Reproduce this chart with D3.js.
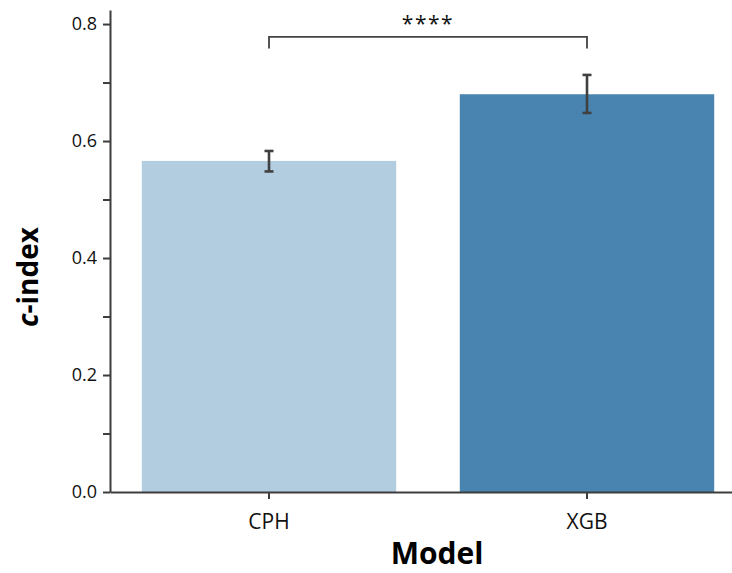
<!DOCTYPE html>
<html>
<head>
<meta charset="utf-8">
<script src="https://cdn.jsdelivr.net/npm/d3@7"></script>
<style>
  body { margin: 0; background: #fff; }
  svg { display: block; font-family: "Open Sans", sans-serif; }
</style>
</head>
<body>
<div id="chart"></div>
<script>
var categories = ["CPH", "XGB"];
var cIndex = [0.566, 0.680];
var ciLow = [0.548, 0.648];
var ciHigh = [0.583, 0.713];
var barColors = ["#b3cde0", "#4884af"];
var yTicks = [0.0, 0.2, 0.4, 0.6, 0.8];
var yMinorTicks = [0.1, 0.3, 0.5, 0.7];
var sigPair = ["CPH", "XGB"];
var sigLabel = "****";
var sigBracket = [0.758, 0.778];

var width = 732, height = 573;
var margin = { top: 10, left: 110, bottom: 81 };
var font = "'Open Sans', sans-serif";

var svg = d3.select("#chart").append("svg")
    .attr("width", width)
    .attr("height", height);

var x = d3.scaleBand()
    .domain(categories)
    .range([margin.left, margin.left + 636])
    .paddingInner(0.2)
    .paddingOuter(0.1);

var y = d3.scaleLinear()
    .domain([0, 0.824])
    .range([height - margin.bottom, margin.top]);

var axisColor = "#3d3d3d";

// bars
svg.append("g").selectAll("rect")
    .data(categories)
    .enter().append("rect")
    .attr("x", function(d) { return x(d); })
    .attr("y", function(d, i) { return y(cIndex[i]); })
    .attr("width", x.bandwidth())
    .attr("height", function(d, i) { return y(0) - y(cIndex[i]); })
    .attr("fill", function(d, i) { return barColors[i]; });

// error bars
var err = svg.append("g")
    .attr("stroke", "#404040")
    .attr("stroke-width", 2.6);

categories.forEach(function(c, i) {
    var cx = x(c) + x.bandwidth() / 2;
    err.append("line")
        .attr("x1", cx).attr("x2", cx)
        .attr("y1", y(ciLow[i])).attr("y2", y(ciHigh[i]));
    err.append("line")
        .attr("x1", cx - 4.5).attr("x2", cx + 4.5)
        .attr("y1", y(ciLow[i])).attr("y2", y(ciLow[i]));
    err.append("line")
        .attr("x1", cx - 4.5).attr("x2", cx + 4.5)
        .attr("y1", y(ciHigh[i])).attr("y2", y(ciHigh[i]));
});

// y axis
var yAxis = svg.append("g")
    .attr("transform", "translate(" + margin.left + ",0)")
    .call(d3.axisLeft(y).tickValues(yTicks).tickFormat(d3.format(".1f")).tickSize(7).tickSizeOuter(0));

svg.append("g")
    .attr("transform", "translate(" + margin.left + ",0)")
    .call(d3.axisLeft(y).tickValues(yMinorTicks).tickFormat("").tickSize(7).tickSizeOuter(0))
    .select(".domain").remove();

// x axis
var xAxis = svg.append("g")
    .attr("transform", "translate(0," + y(0) + ")")
    .call(d3.axisBottom(x).tickSize(7).tickSizeOuter(0));

svg.selectAll(".domain")
    .attr("stroke", axisColor)
    .attr("stroke-width", 2);
svg.selectAll(".tick line")
    .attr("stroke", axisColor)
    .attr("stroke-width", 2);
yAxis.attr("font-family", font).attr("font-size", 18);
xAxis.attr("font-family", font).attr("font-size", 21);
yAxis.selectAll(".tick text")
    .style("font-size", "18px")
    .attr("fill", "#111")
    .attr("x", -13);
xAxis.selectAll(".tick text")
    .style("font-size", "21px")
    .attr("fill", "#111")
    .attr("y", 22);

// axis titles
svg.append("text")
    .attr("transform", "translate(38,277) rotate(-90)")
    .attr("text-anchor", "middle")
    .attr("font-size", 28)
    .attr("font-weight", "bold")
    .attr("fill", "#000")
    .html('<tspan font-style="italic">c</tspan>-index');

svg.append("text")
    .attr("x", 437)
    .attr("y", 564)
    .attr("text-anchor", "middle")
    .attr("font-size", 30)
    .attr("font-weight", "bold")
    .attr("fill", "#000")
    .text("Model");

// significance bracket
var bx1 = x(sigPair[0]) + x.bandwidth() / 2,
    bx2 = x(sigPair[1]) + x.bandwidth() / 2;
svg.append("path")
    .attr("d", "M" + bx1 + "," + y(sigBracket[0]) +
        "V" + y(sigBracket[1]) +
        "H" + bx2 +
        "V" + y(sigBracket[0]))
    .attr("fill", "none")
    .attr("stroke", "#444")
    .attr("stroke-width", 1.8);

svg.append("text")
    .attr("x", (bx1 + bx2) / 2)
    .attr("y", 31)
    .attr("text-anchor", "middle")
    .attr("font-size", 21)
    .attr("letter-spacing", 1.5)
    .attr("fill", "#111")
    .text(sigLabel);
</script>
</body>
</html>
